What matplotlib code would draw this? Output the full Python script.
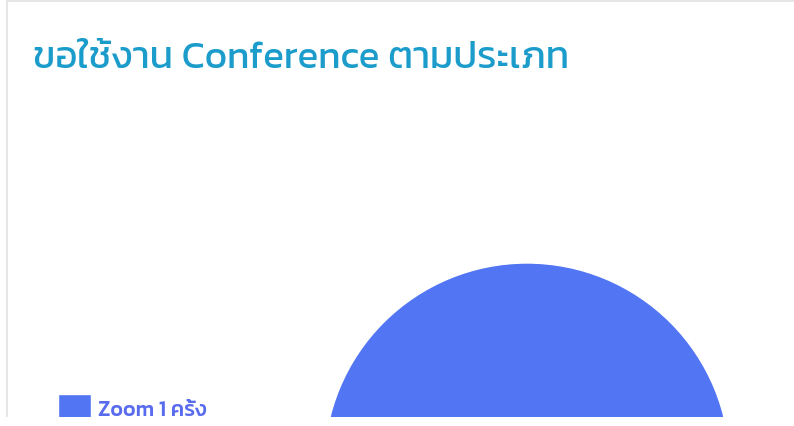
import matplotlib
matplotlib.use("Agg")
import matplotlib.pyplot as plt
from matplotlib import font_manager
from matplotlib.ft2font import FT2Font
from matplotlib.patches import Rectangle

# Chart data
title = "ขอใช้งาน Conference ตามประเภท"
labels = ["Zoom 1 ครั้ง"]
values = [1]
colors = ["#5175f3"]


def find_thai_fonts():
    """Return family names of installed fonts that have Thai glyphs"""
    found = []
    for f in font_manager.fontManager.ttflist:
        try:
            cmap = FT2Font(f.fname).get_charmap()
        except Exception:
            continue
        if 0x0E02 in cmap and f.name not in found:
            found.append(f.name)
    return found


thai = find_thai_fonts()
preferred = ["Kanit", "Prompt", "Sarabun", "Noto Sans Thai", "Noto Sans Thai UI",
             "Noto Sans Thai Looped", "Loma", "Garuda", "Tlwg Typo", "Waree"]
ordered = [f for f in preferred if f in thai] + [f for f in thai if f not in preferred]
families = ordered[:1] + ["Noto Sans", "DejaVu Sans"]
plt.rcParams["font.family"] = families

W, H = 794, 427
clip_h = 418  # everything below this row is cut off in the screenshot

fig = plt.figure(figsize=(W / 100, H / 100), dpi=100)
fig.patch.set_facecolor("white")

# card border (left and top edges visible)
fig.patches.append(Rectangle((7 / W, -0.1), 1.2, 1 - 2 / H + 0.1,
                             transform=fig.transFigure, fill=False,
                             edgecolor="#e2e2e2", linewidth=1.2))

fig.text(33 / W, 1 - 68 / H, title, fontsize=27.7, fontweight="normal",
         color="#1b9ccb", ha="left", va="baseline")

ax = fig.add_axes([0, 1 - clip_h / H, 1, clip_h / H])
wedges, _ = ax.pie(values, colors=colors, center=(527, 467), radius=203,
                   startangle=90, counterclock=False,
                   wedgeprops=dict(edgecolor="white", linewidth=1))
ax.set_xlim(0, W)
ax.set_ylim(clip_h, 0)
ax.set_aspect("equal")
ax.axis("off")

fig.legend(wedges, labels, loc="upper left",
           bbox_to_anchor=(58 / W, 1 - 395 / H), bbox_transform=fig.transFigure,
           frameon=False, borderpad=0, borderaxespad=0,
           handlelength=1.55, handleheight=1.6, handletextpad=0.33,
           labelcolor="#5a6cee",
           prop=dict(size=15.5, weight="medium"))

# white strip hiding the cut-off bottom rows
fig.add_artist(Rectangle((0, 0), 1, 1 - clip_h / H, transform=fig.transFigure,
                         facecolor="white", edgecolor="none", zorder=20))

fig.savefig("out.png", dpi=100)
